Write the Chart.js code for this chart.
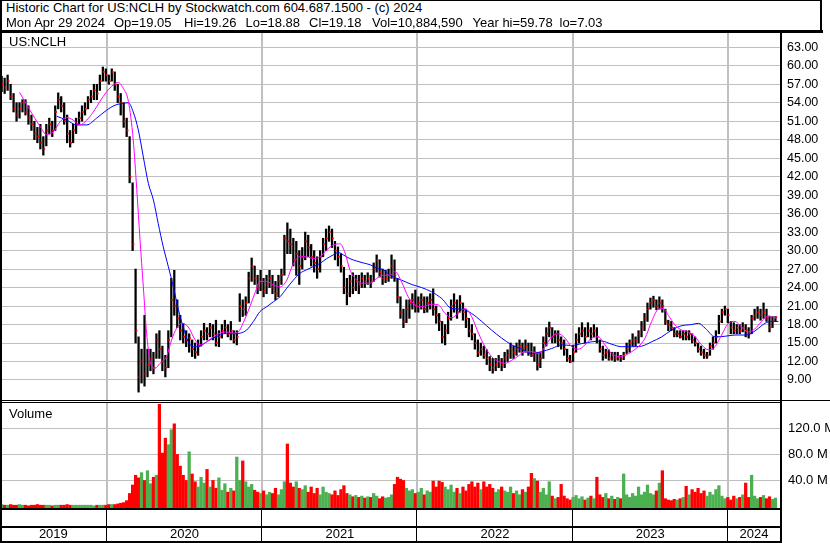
<!DOCTYPE html>
<html>
<head>
<meta charset="utf-8">
<script src="https://cdn.jsdelivr.net/npm/chart.js@4.4.1/dist/chart.umd.min.js"></script>
<style>
  body { margin: 0; background: #fff; width: 830px; height: 543px; overflow: hidden; position: relative;
         font-family: Arial, "Liberation Sans", sans-serif; color: #000; }
  canvas { position: absolute; left: 0; z-index: 1; }
  #priceCv { top: 33px; }
  #volCv { top: 403px; }
  .ln { position: absolute; background: #000; z-index: 2; }
  .hd { position: absolute; font-size: 13px; line-height: 14.6px; white-space: pre; z-index: 2; }
  .lbl { position: absolute; font-size: 13px; line-height: 13px; z-index: 2; }
</style>
</head>
<body>
<canvas id="priceCv" width="830" height="367"></canvas>
<canvas id="volCv" width="830" height="140"></canvas>

<div class="hd" style="left:6px; top:1px;">Historic Chart for US:NCLH by Stockwatch.com 604.687.1500 - (c) 2024</div>
<div class="hd" style="left:6px; top:15.6px;">Mon Apr 29 2024</div>
<div class="hd" style="left:114px; top:15.6px;">Op=19.05</div>
<div class="hd" style="left:184px; top:15.6px;">Hi=19.26</div>
<div class="hd" style="left:245.5px; top:15.6px;">Lo=18.88</div>
<div class="hd" style="left:309px; top:15.6px;">Cl=19.18</div>
<div class="hd" style="left:372px; top:15.6px;">Vol=10,884,590</div>
<div class="hd" style="left:472.5px; top:15.6px;">Year hi=59.78</div>
<div class="hd" style="left:559.5px; top:15.6px;">lo=7.03</div>
<div class="lbl" style="left:9px; top:35px;">US:NCLH</div>
<div class="lbl" style="left:9px; top:407px;">Volume</div>

<div class="ln" style="left:0; top:0; width:822px; height:1px;"></div>
<div class="ln" style="left:820px; top:0; width:2px; height:31px;"></div>
<div class="ln" style="left:0; top:30px; width:823px; height:3px;"></div>
<div class="ln" style="left:0; top:0; width:2px; height:543px;"></div>
<div class="ln" style="left:780px; top:31px; width:2px; height:512px;"></div>
<div class="ln" style="left:0; top:400px; width:830px; height:1px;"></div>
<div class="ln" style="left:0; top:402px; width:781px; height:1px;"></div>

<script>
// weekly bars, week 0 = Apr 29 2019
const years = ['2019', '2020', '2021', '2022', '2023', '2024'];
const priceTicks = [9, 12, 15, 18, 21, 24, 27, 30, 33, 36, 39, 42, 45, 48, 51, 54, 57, 60, 63];
const volumeTicks = [40, 80, 120];

const closes = [
  57.0,56.5,57.5,55.0,53.0,52.0,53.0,54.0,52.5,51.5,
  50.5,49.0,48.5,47.5,46.5,49.5,50.5,49.5,52.5,54.5,
  53.5,51.0,49.0,47.5,49.5,50.5,51.5,52.5,53.0,54.5,
  55.0,56.0,55.5,57.5,59.0,58.5,57.5,59.0,57.0,55.0,
  54.0,51.0,49.5,42.0,31.0,17.0,9.5,12.0,10.0,11.5,
  12.5,11.0,15.5,14.0,12.0,11.0,15.5,22.0,21.0,19.0,
  17.0,16.0,15.5,15.8,14.0,13.5,14.5,16.0,17.0,16.5,
  17.5,16.5,15.0,16.0,17.0,17.5,16.5,17.0,15.5,16.0,
  21.0,20.5,21.5,25.5,27.5,25.5,24.0,25.0,23.5,24.5,
  25.5,24.0,23.0,25.0,26.0,32.0,31.5,31.0,28.5,29.5,
  27.5,29.0,31.5,30.5,29.0,28.0,27.0,29.0,31.0,32.0,
  33.0,32.0,30.0,29.0,27.5,24.0,23.0,25.0,24.0,25.0,
  24.5,25.5,25.0,25.5,25.0,27.0,28.5,26.5,25.5,25.5,
  26.0,27.5,26.0,22.5,20.0,18.5,20.5,21.5,22.0,21.0,
  21.5,22.0,20.5,21.5,22.0,20.5,19.5,18.5,16.0,17.0,
  19.0,21.0,21.5,20.0,21.5,20.0,19.0,17.0,16.5,15.0,
  13.5,14.0,13.0,12.5,11.5,11.0,11.5,12.0,11.5,12.5,
  13.0,14.0,13.5,14.0,14.5,14.0,14.5,13.5,13.0,13.5,
  11.5,12.5,15.0,16.5,17.5,16.0,16.5,15.5,15.0,14.0,
  12.5,12.0,13.5,15.5,16.5,17.0,16.0,17.0,16.5,17.0,
  16.0,14.0,13.0,13.5,12.5,13.0,12.5,12.8,12.5,13.0,
  14.0,15.0,15.5,15.5,16.5,17.5,19.0,20.5,21.5,22.0,
  21.0,21.5,21.0,18.5,18.0,17.5,16.5,16.5,16.0,16.5,
  16.0,16.5,15.5,15.0,14.0,13.5,13.0,13.0,14.5,15.0,
  16.0,18.5,20.0,20.5,19.5,17.5,17.0,17.5,17.0,17.5,
  17.0,16.5,19.0,19.5,20.0,19.5,20.0,19.0,17.5,18.5,
  19.18
];
const highs = [
  58.3,58.0,58.5,57.0,55.5,54.0,54.0,54.5,54.5,53.5,
  52.0,51.0,50.0,50.5,48.5,50.5,51.5,51.0,53.5,55.6,
  55.0,54.0,52.0,49.5,50.5,51.5,52.5,53.5,54.0,55.0,
  56.0,57.0,57.0,58.5,59.8,59.5,58.5,59.5,59.0,57.0,
  55.5,54.0,51.5,48.5,41.0,27.0,16.0,14.0,19.5,14.0,
  14.0,13.5,16.5,17.0,14.5,13.0,17.0,25.5,26.8,22.0,
  19.5,18.2,17.0,16.5,15.5,15.0,15.5,17.0,18.2,17.5,
  18.2,18.0,18.7,17.0,18.0,18.7,18.0,18.5,17.0,17.0,
  23.0,22.0,22.5,26.5,28.8,27.5,26.0,26.8,25.5,26.0,
  26.8,26.0,25.0,26.0,27.0,32.5,34.5,33.5,32.0,31.5,
  30.0,30.5,33.0,32.5,31.0,30.0,29.0,30.0,32.0,33.5,
  34.0,33.5,31.5,30.6,29.5,27.3,25.5,26.0,26.4,26.0,
  26.0,26.4,26.0,26.4,26.0,28.0,29.3,28.5,27.0,26.8,
  27.0,29.3,28.5,25.5,22.5,20.5,22.0,22.0,23.0,23.6,
  22.5,23.0,22.5,22.5,23.0,23.8,21.0,19.8,18.5,18.0,
  20.0,22.0,23.0,22.0,22.7,21.5,20.4,19.0,18.0,16.5,
  15.5,15.0,14.5,13.9,12.8,12.5,12.5,13.0,12.5,13.5,
  13.9,15.0,14.5,15.0,15.5,15.0,15.5,15.0,15.0,14.4,
  13.5,13.5,16.0,17.5,18.4,17.5,17.0,17.0,16.0,15.5,
  14.0,13.0,14.5,16.5,17.5,18.3,17.5,18.3,17.5,18.0,
  17.5,15.5,14.5,14.0,13.9,13.5,13.5,13.5,13.0,13.5,
  15.0,15.5,16.5,16.0,17.0,18.5,19.8,21.5,22.3,22.6,
  22.0,22.5,22.0,20.5,18.7,18.5,17.5,17.0,17.0,17.0,
  17.0,17.0,16.5,16.0,15.0,14.5,14.0,13.5,15.0,16.0,
  17.0,19.5,20.5,21.0,20.5,18.5,18.3,18.0,18.0,18.3,
  18.0,17.5,19.5,20.5,20.9,20.5,21.5,20.5,19.3,19.3,
  19.3
];
const lows = [
  55.8,55.5,56.0,54.5,52.5,51.0,51.5,52.5,52.0,50.5,
  49.5,48.0,47.5,46.5,45.5,47.0,49.0,48.5,49.5,53.0,
  52.5,50.5,47.5,46.8,47.5,49.0,50.5,51.0,52.0,53.0,
  54.0,54.5,54.5,56.0,57.5,57.5,57.0,57.5,56.0,54.0,
  52.0,50.0,48.5,41.0,30.0,15.0,7.03,8.5,8.0,9.5,
  10.5,10.0,12.5,12.5,10.5,9.5,11.0,16.0,19.5,17.5,
  15.5,15.0,14.4,13.5,12.8,12.5,13.0,14.5,15.5,15.5,
  16.0,15.5,14.5,14.4,15.8,16.5,16.0,15.5,15.0,14.7,
  18.5,19.3,19.5,21.5,25.0,24.5,23.0,23.5,22.5,23.0,
  24.0,23.0,22.0,22.5,24.5,26.0,29.5,29.5,27.5,26.0,
  24.5,27.0,28.5,29.0,27.5,26.5,25.5,26.5,29.0,30.0,
  31.5,30.5,28.5,27.5,26.5,23.0,21.2,22.5,23.0,23.5,
  23.0,24.0,24.0,24.5,24.0,25.0,26.5,25.7,24.5,24.8,
  25.0,25.5,25.0,21.5,19.0,17.5,18.3,19.0,20.5,20.0,
  20.0,20.5,19.9,20.0,20.5,19.5,18.2,17.0,15.0,14.7,
  16.5,18.7,20.0,19.0,20.0,18.7,17.5,16.0,15.5,14.0,
  12.8,13.0,12.5,11.5,10.5,10.1,10.5,11.0,10.5,11.0,
  12.0,12.5,12.5,13.0,13.5,13.0,13.5,13.0,12.8,12.0,
  10.6,11.0,12.5,14.5,16.0,15.0,15.0,14.4,14.0,13.0,
  12.0,11.8,12.0,13.5,15.0,16.0,15.0,16.0,15.5,16.0,
  15.0,13.5,12.2,12.5,12.2,12.2,12.0,12.2,12.0,12.3,
  13.3,13.5,14.5,14.5,15.0,16.0,17.0,18.5,20.5,20.8,
  20.4,20.5,20.0,18.0,17.0,17.0,16.0,16.0,15.8,15.5,
  15.5,15.5,15.0,14.5,13.5,13.0,12.5,12.5,13.0,14.0,
  15.0,16.5,18.3,19.5,18.3,16.5,16.5,16.5,16.5,16.8,
  16.0,15.8,16.5,18.7,19.0,18.7,19.0,18.5,16.8,17.5,
  18.5
];
// millions of shares
const volumes = [
  3,2,2,3,2,2,3,2,2,1,
  2,2,3,2,2,2,2,1,2,2,
  2,2,3,2,2,2,2,2,2,2,
  2,1,2,2,2,2,3,3,3,4,
  5,6,9,20,33,48,44,52,40,55,
  35,45,48,157,82,105,95,118,127,80,
  62,48,40,84,50,38,30,45,36,57,
  30,40,28,44,25,35,22,28,24,76,
  40,70,38,30,34,25,22,20,24,18,
  22,20,28,18,26,38,96,36,30,38,
  28,26,32,22,30,20,28,18,30,22,
  20,18,24,17,26,32,20,18,15,17,
  14,16,13,15,14,20,16,12,15,13,
  14,18,34,45,42,40,28,24,26,20,
  22,28,18,24,22,39,30,39,37,30,
  26,33,22,28,20,30,24,34,38,30,
  36,26,38,30,34,28,22,26,30,24,
  22,30,20,24,18,26,22,30,51,43,
  39,22,28,18,38,16,12,14,34,16,
  12,10,14,17,12,15,10,13,16,12,
  45,18,14,20,12,16,11,14,12,50,
  18,14,20,16,30,18,22,33,20,18,
  24,36,55,12,10,9,11,10,12,14,
  31,18,26,22,28,20,24,16,22,18,
  26,32,16,12,14,10,16,12,14,18,
  36,14,48,16,12,14,17,12,15,11,
  13
];

// moving averages (week position, value)
const maFastWeeks = [6,9.5,13,15.1,17.4,19.6,21.8,24,26.3,28.6,30.8,33,35.3,37.5,39.2,40.9,42.6,44.2,45.4,46.5,
  47.6,48.7,49.8,51.5,53.2,55.4,57.1,58.8,60.5,62.7,65,66.6,68.9,71.1,73.4,75.6,77.8,79.5,81.2,83.4,
  85.1,86.8,89.1,91.3,93.5,95.8,98,100.2,102.5,104.7,106.9,109.2,111.4,113.7,115.4,117,119.3,121.5,123.8,126,
  128.2,130.5,132.2,134.4,136.6,138.9,141.1,144.5,146.7,149,151.2,153.4,155.7,157.9,160.2,162.4,164.6,166.9,169.1,171.4,
  173.6,175.8,178.1,180.3,182.6,184.8,187,189.3,191.5,193.8,196,198.3,200.5,202.7,205,207.2,209.5,211.7,213.9,216.2,
  218.4,220.7,222.3,224,226.3,228.5,230.7,233,235.2,237.4,239.7,241.9,244.2,246.4,248.6,250.9,253.1,255.3,257.6,260.4];
const maFast = [55.7,52.8,50.1,48.8,49.3,50.9,51.6,51.2,50.4,51.2,52.5,54.2,55.8,56.9,57.3,56.3,54.2,48.0,39.9,31.7,
  24.1,16.6,12.2,10.9,11.7,12.8,15.5,17.4,18.2,17.6,15.5,14.7,15.2,16.0,16.6,16.8,16.6,16.8,18.3,20.9,
  23.1,25.0,25.0,24.4,24.1,25.2,27.9,29.0,29.0,28.7,29.0,30.1,30.9,31.1,29.6,26.9,25.2,24.7,24.7,25.5,
  26.0,26.0,26.6,24.9,22.5,21.2,20.9,21.3,21.2,19.8,19.1,19.8,20.6,19.3,16.6,14.4,12.8,12.0,11.7,12.2,
  12.9,13.6,13.6,13.3,14.4,16.0,16.5,15.8,14.4,14.0,14.7,15.8,16.0,14.7,13.3,12.8,13.0,13.6,14.4,15.8,
  18.5,20.5,20.6,19.5,17.9,17.1,16.8,16.0,14.7,13.9,14.4,16.3,18.2,18.5,17.6,16.8,17.3,18.5,19.4,19.0];
const maSlowWeeks = [18.5,21.8,25.2,28.6,31.9,35.3,38.1,40.9,42.6,44.2,45.9,47.6,49.3,51,52.6,54.3,56,57.7,59.4,61,
  62.7,64.4,66.6,68.9,71.1,73.4,75.6,77.8,80.1,82.3,84.6,86.8,89.1,91.3,93.5,95.8,98,100.2,102.5,104.7,
  106.9,109.2,111.4,113.1,114.8,117,119.3,121.5,123.8,126,128.2,130.5,134.4,137.8,141.1,144.5,147.9,151.2,154.6,157.9,
  161.3,164.6,168,171.4,174.7,178.1,181.4,184.8,188.2,191.5,194.9,198.3,201.6,205,208.3,211.7,215.1,218.4,221.8,225.1,
  228.5,231.9,234.1,236.4,239.7,243.1,246.4,249.8,252,254.3,256.5,258.8,261];
const maSlow = [51.8,51.2,50.4,50.4,51.5,52.8,53.6,53.9,54.0,52.5,49.6,45.2,40.9,38.2,34.4,30.6,27.4,24.1,20.4,17.6,
  15.2,14.4,14.5,15.2,15.8,16.3,16.6,16.5,16.6,17.1,18.5,20.1,20.9,21.7,22.5,23.9,25.2,26.3,26.9,27.4,
  27.9,28.7,29.3,29.7,29.3,28.7,28.3,28.0,27.7,27.2,26.9,26.0,25.2,24.5,24.0,23.3,22.2,20.6,20.5,19.8,
  18.5,17.1,15.8,14.7,14.0,13.3,13.6,14.1,14.7,14.6,14.9,15.2,15.3,14.8,14.4,14.4,14.5,15.2,16.0,17.1,
  17.8,18.0,18.2,17.4,16.0,16.1,16.3,16.3,16.6,17.4,18.2,18.5,18.5];

const startDate = Date.UTC(2019, 3, 29);
const yearStarts = years.slice(1).map(y => (Date.UTC(+y, 0, 1) - startDate) / (7 * 864e5));

const FONT = 'Arial, "Liberation Sans", sans-serif';
const GRID = '#c0c0c0';
const RED = '#ff0000';
const GREEN = '#4caf50';
const xMin = -0.56, xMax = 261.53;

function xAxis(h) {
  return {
    type: 'linear', min: xMin, max: xMax, offset: false,
    ticks: { display: false },
    grid: { color: GRID, lineWidth: 2, drawTicks: false, offset: false },
    border: { display: false },
    afterBuildTicks: s => { s.ticks = yearStarts.map(v => ({ value: v })); },
    afterFit: s => { s.height = h; s.paddingLeft = 0; s.paddingRight = 0; }
  };
}

function yAxis(min, max, tickValues, fmt, pad, size) {
  return {
    position: 'right', min: min, max: max,
    afterBuildTicks: s => { s.ticks = tickValues.map(v => ({ value: v })); },
    afterFit: s => { s.width = 50; s.paddingTop = 0; s.paddingBottom = 0; },
    ticks: { callback: fmt, color: '#000', padding: pad, font: { family: FONT, size: size } },
    grid: { color: GRID, lineWidth: 1, drawTicks: false },
    border: { display: false }
  };
}

const priceBars = closes.map((c, i) => ({ x: i, y: [lows[i], highs[i]] }));
const closeMarks = closes.map((c, i) => ({ x: i + 0.3, y: c }));
const fastLine = maFastWeeks.map((w, k) => ({ x: w, y: maFast[k] }));
const slowLine = maSlowWeeks.map((w, k) => ({ x: w, y: maSlow[k] }));

const baseOptions = {
  responsive: false, animation: false, devicePixelRatio: 1, events: [],
  layout: { padding: 0, autoPadding: false },
  plugins: { legend: { display: false }, tooltip: { enabled: false } }
};

new Chart(document.getElementById('priceCv'), {
  type: 'bar',
  data: {
    datasets: [
      { type: 'line', data: fastLine, borderColor: '#ff00ff', borderWidth: 1, pointRadius: 0,
        cubicInterpolationMode: 'monotone', order: 0 },
      { type: 'line', data: slowLine, borderColor: '#0000ff', borderWidth: 1, pointRadius: 0,
        cubicInterpolationMode: 'monotone', order: 0 },
      { type: 'line', data: closeMarks, showLine: false, pointStyle: 'rect', pointRadius: 1.25,
        pointBackgroundColor: RED, pointBorderWidth: 0, order: 1 },
      { type: 'bar', data: priceBars, backgroundColor: '#000', barThickness: 1.6, borderWidth: 0, order: 2 }
    ]
  },
  options: {
    ...baseOptions,
    scales: {
      x: xAxis(0),
      y: yAxis(5.75, 65.32, priceTicks, v => v.toFixed(2), 7, 12.5)
    }
  }
});

// year boxes under the volume panel
const yearStrip = {
  id: 'yearStrip',
  afterDraw(chart) {
    const { ctx } = chart;
    const x = chart.scales.x;
    const top = chart.chartArea.bottom;
    ctx.save();
    ctx.fillStyle = '#000';
    ctx.fillRect(0, top, 781, 2);
    ctx.fillRect(0, top + 18, 781, 2);
    ctx.fillRect(0, top + 33, 781, 2);
    yearStarts.forEach(w => {
      ctx.fillRect(Math.round(x.getPixelForValue(w)) - 1, top + 2, 1, 31);
    });
    ctx.font = '13px ' + FONT;
    ctx.textAlign = 'center';
    ctx.textBaseline = 'middle';
    const edges = [x.left, ...yearStarts.map(w => x.getPixelForValue(w)), x.right];
    years.forEach((yr, k) => ctx.fillText(yr, (edges[k] + edges[k + 1]) / 2, top + 26.5));
    ctx.restore();
  }
};

const volMin = -2.3;
new Chart(document.getElementById('volCv'), {
  type: 'bar',
  data: {
    datasets: [{
      data: volumes.map((v, i) => ({ x: i, y: v })),
      backgroundColor: volumes.map((v, i) => (i > 0 && closes[i] < closes[i - 1]) ? RED : GREEN),
      barThickness: 2.6, borderWidth: 0, base: volMin
    }]
  },
  options: {
    ...baseOptions,
    scales: {
      x: xAxis(35),
      y: yAxis(volMin, 159, volumeTicks, v => v.toFixed(1) + ' M', 8, 13)
    }
  },
  plugins: [yearStrip]
});
</script>
</body>
</html>
